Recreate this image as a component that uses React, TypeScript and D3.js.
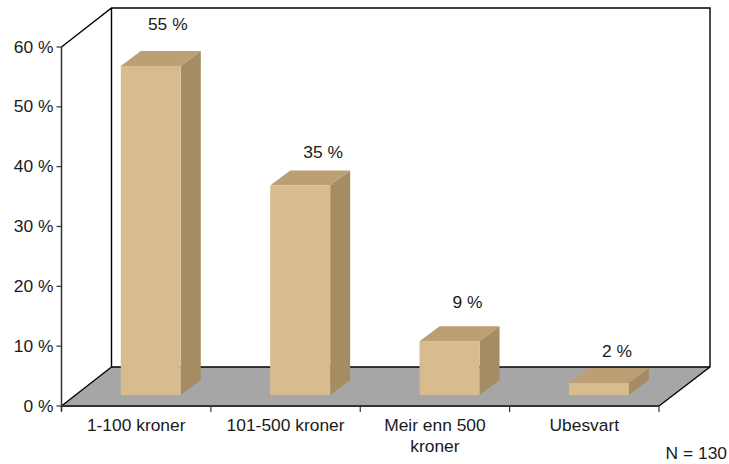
import React from 'react'
import * as d3 from 'd3'

const WIDTH = 729
const HEIGHT = 464

const categories = ['1-100 kroner', '101-500 kroner', 'Meir enn 500 kroner', 'Ubesvart']
const categoryLines = [['1-100 kroner'], ['101-500 kroner'], ['Meir enn 500', 'kroner'], ['Ubesvart']]
const values = [55, 35, 9, 2]
const valueLabels = ['55 %', '35 %', '9 %', '2 %']
const ticks = [0, 10, 20, 30, 40, 50, 60]

const LEFT = 61.5
const RIGHT = 659
const BASE = 406
const TOP = 47
const DEPTH_X = 50
const DEPTH_Y = 39
const BAR_W = 60
const BAR_DX = 14.6
const BAR_DY = 11
const SIDE_X = 20
const SIDE_Y = 15

// value labels were placed by hand in the original, so each has its own nudge
const LABEL_NUDGE = [[17, -36], [23, -28], [18, -33], [18, -26]]

const FONT = '"Liberation Sans", Arial, sans-serif'
const FRONT = '#d8bb8e'
const TOPFACE = '#bc9f75'
const SIDE = '#a68c63'
const FLOOR = '#a6a6a6'
const INK = '#1a1a1a'

export default function App() {
  const x = d3.scaleBand<string>().domain(categories).range([LEFT, RIGHT])
  const y = d3.scaleLinear().domain([0, 60]).range([BASE, TOP])
  const poly = d3.line()
  const edges = [LEFT, ...categories.map((c) => (x(c) as number) + x.bandwidth())]

  return (
    <svg
      width={WIDTH}
      height={HEIGHT}
      style={{ position: 'absolute', left: 0, top: 0 }}
      fontFamily={FONT}
      fontSize={17.4}
      fill={INK}
    >
      {/* floor and back wall */}
      <path
        d={poly([[LEFT, BASE], [LEFT + DEPTH_X, BASE - DEPTH_Y], [RIGHT + DEPTH_X + 1, BASE - DEPTH_Y], [RIGHT, BASE]]) + 'Z'}
        fill={FLOOR}
      />
      <path
        d={poly([[LEFT, y(60)], [LEFT + DEPTH_X, y(60) - DEPTH_Y], [RIGHT + DEPTH_X + 1, y(60) - DEPTH_Y], [RIGHT + DEPTH_X + 1, BASE - DEPTH_Y], [RIGHT, BASE]]) as string}
        fill="none"
        stroke="#000"
        strokeWidth={1.4}
      />
      <path
        d={poly([[LEFT + DEPTH_X, y(60) - DEPTH_Y], [LEFT + DEPTH_X, BASE - DEPTH_Y], [LEFT, BASE]]) as string}
        fill="none"
        stroke="#000"
        strokeWidth={1.4}
      />
      <line x1={LEFT + DEPTH_X} x2={RIGHT + DEPTH_X + 1} y1={BASE - DEPTH_Y} y2={BASE - DEPTH_Y} stroke="#000" strokeWidth={1.4} />

      {/* axes */}
      <line x1={LEFT} x2={LEFT} y1={y(60)} y2={BASE + 5} stroke="#333" strokeWidth={1.5} />
      <line x1={LEFT} x2={RIGHT} y1={BASE} y2={BASE} stroke="#333" strokeWidth={1.8} />
      {ticks.map((t) => (
        <g key={t}>
          <line x1={LEFT - 5} x2={LEFT} y1={y(t)} y2={y(t)} stroke="#333" strokeWidth={1.2} />
          <text x={LEFT - 8} y={y(t) + 5.5} textAnchor="end">{t} %</text>
        </g>
      ))}
      {edges.map((e) => (
        <line key={e} x1={e} x2={e} y1={BASE} y2={BASE + 6} stroke="#333" strokeWidth={1.2} />
      ))}

      {/* bars */}
      {categories.map((c, i) => {
        const x0 = (x(c) as number) + x.bandwidth() / 2 + BAR_DX - BAR_W / 2
        const x1 = x0 + BAR_W
        const y0 = BASE - BAR_DY
        const y1 = y(values[i]) - BAR_DY
        return (
          <g key={c}>
            <path d={poly([[x0, y1], [x0 + SIDE_X, y1 - SIDE_Y], [x1 + SIDE_X, y1 - SIDE_Y], [x1, y1]]) + 'Z'} fill={TOPFACE} />
            <path d={poly([[x1, y1], [x1 + SIDE_X, y1 - SIDE_Y], [x1 + SIDE_X, y0 - SIDE_Y], [x1, y0]]) + 'Z'} fill={SIDE} />
            <rect x={x0} y={y1} width={BAR_W} height={y0 - y1} fill={FRONT} />
            <text x={x0 + BAR_W / 2 + LABEL_NUDGE[i][0]} y={y1 + LABEL_NUDGE[i][1]} textAnchor="middle">{valueLabels[i]}</text>
          </g>
        )
      })}

      {/* category labels */}
      {categories.map((c, i) => (
        <text key={c} x={(x(c) as number) + x.bandwidth() / 2} y={431} textAnchor="middle">
          {categoryLines[i].map((l, j) => (
            <tspan key={l} x={(x(c) as number) + x.bandwidth() / 2} dy={j === 0 ? 0 : 21}>{l}</tspan>
          ))}
        </text>
      ))}

      <text x={727} y={459} textAnchor="end">N = 130</text>
    </svg>
  )
}
